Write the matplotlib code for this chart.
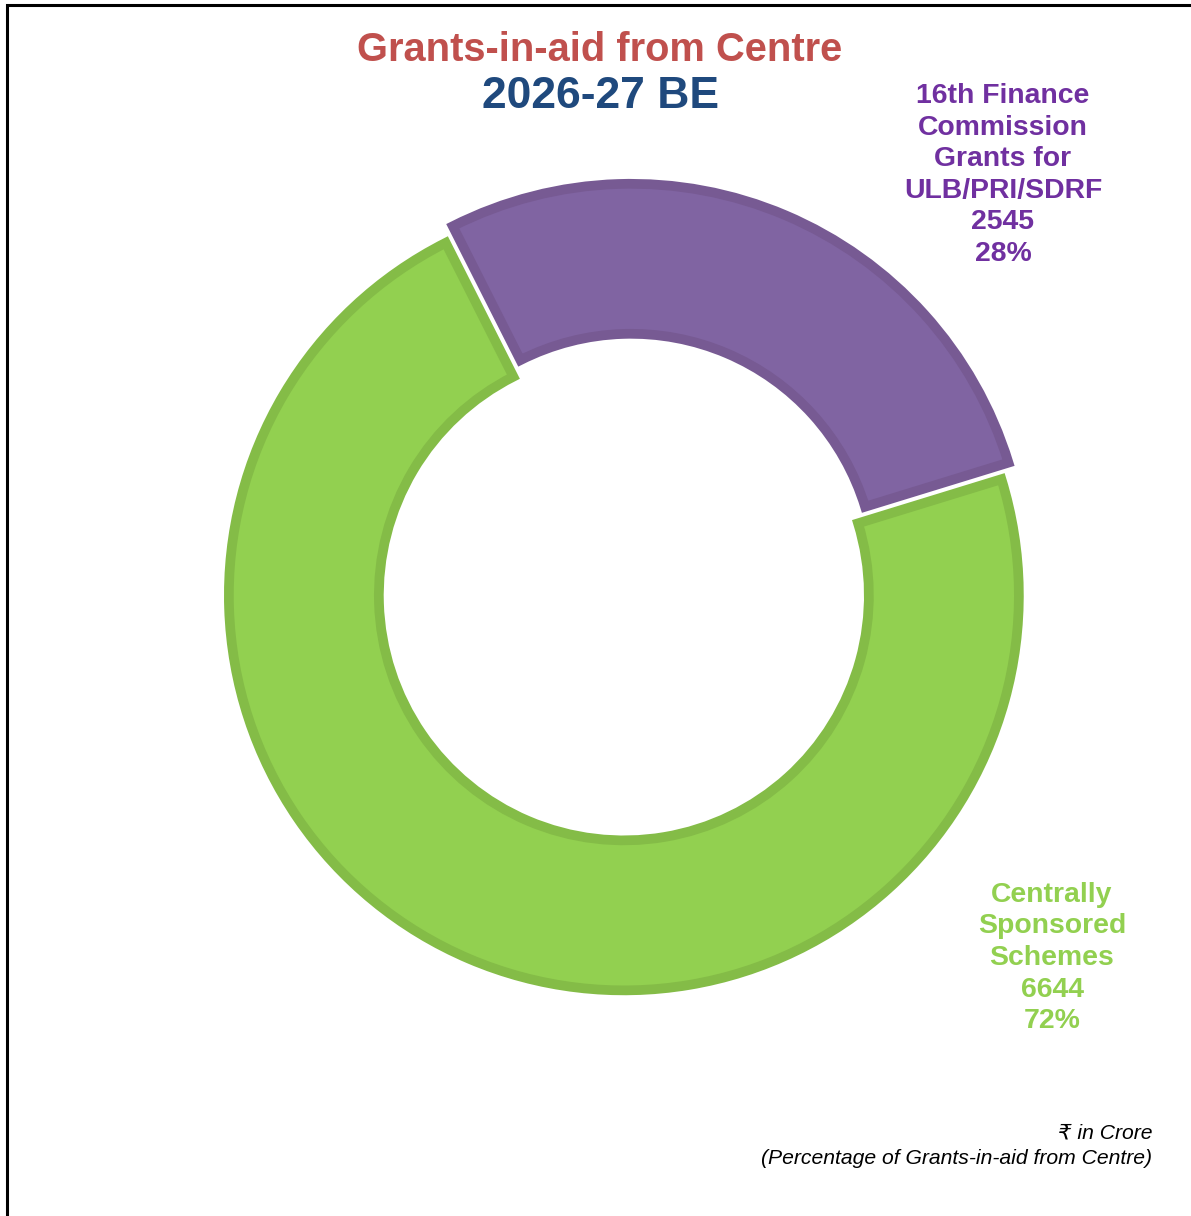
import matplotlib.pyplot as plt

# dados do gráfico
categorias = ["16th Finance\nCommission\nGrants for\nULB/PRI/SDRF",
              "Centrally\nSponsored\nSchemes"]
valores = [2545, 6644]
cores = ["#8064A2", "#92D050"]
cores_borda = ["#775A93", "#84BC47"]
cores_texto = ["#7030A0", "#92D050"]

W, H = 1191, 1216
fig = plt.figure(figsize=(W / 100, H / 100), dpi=100)
ax = fig.add_axes([0, 0, 1, 1])

fonte = ["Liberation Sans", "DejaVu Sans"]

# donut: centro e raio em pixels (borda de ~10 px centrada no contorno)
cx, cy = 627, H - 588
raio = 395
total = sum(valores)
inicio = 17.1 + 360 * valores[0] / total

# explode no pie é em unidades de dados (pixels aqui)
wedges, _ = ax.pie(valores, colors=cores, startangle=inicio, counterclock=False,
                   radius=raio, center=(cx, cy), explode=[10, 8],
                   wedgeprops=dict(width=150, linewidth=7, joinstyle="miter"))
for w, ec in zip(wedges, cores_borda):
    w.set_edgecolor(ec)

ax.set_xlim(0, W)
ax.set_ylim(0, H)
ax.set_aspect("auto")
ax.axis("off")

# rótulos
pcts = [round(v / total * 100) for v in valores]
pos = [(1003, 175), (1052, 958)]
for cat, v, p, c, (x, y) in zip(categorias, valores, pcts, cores_texto, pos):
    ax.text(x, H - y, f"{cat}\n{v}\n{p}%", color=c, fontsize=20.4, fontweight="bold",
            ha="center", va="center", linespacing=1.28, family=fonte)

# título
ax.text(600, H - 50, "Grants-in-aid from Centre", color="#C0504D", fontsize=28.7,
        fontweight="bold", ha="center", va="center", family=fonte)
ax.text(600, H - 96, "2026-27 BE", color="#1F497D", fontsize=32,
        fontweight="bold", ha="center", va="center", family=fonte)

# nota de rodapé
ax.text(1152, H - 1133, "₹ in Crore", fontsize=15.2, style="italic",
        ha="right", va="center", family=fonte)
ax.text(1152, H - 1159, "(Percentage of Grants-in-aid from Centre)", fontsize=15.2,
        style="italic", ha="right", va="center", family=fonte)

# moldura (topo e esquerda)
ax.plot([7, 7, W], [0, H - 5, H - 5], color="black", lw=2.2, solid_joinstyle="miter")

fig.savefig("out.png", dpi=100)
